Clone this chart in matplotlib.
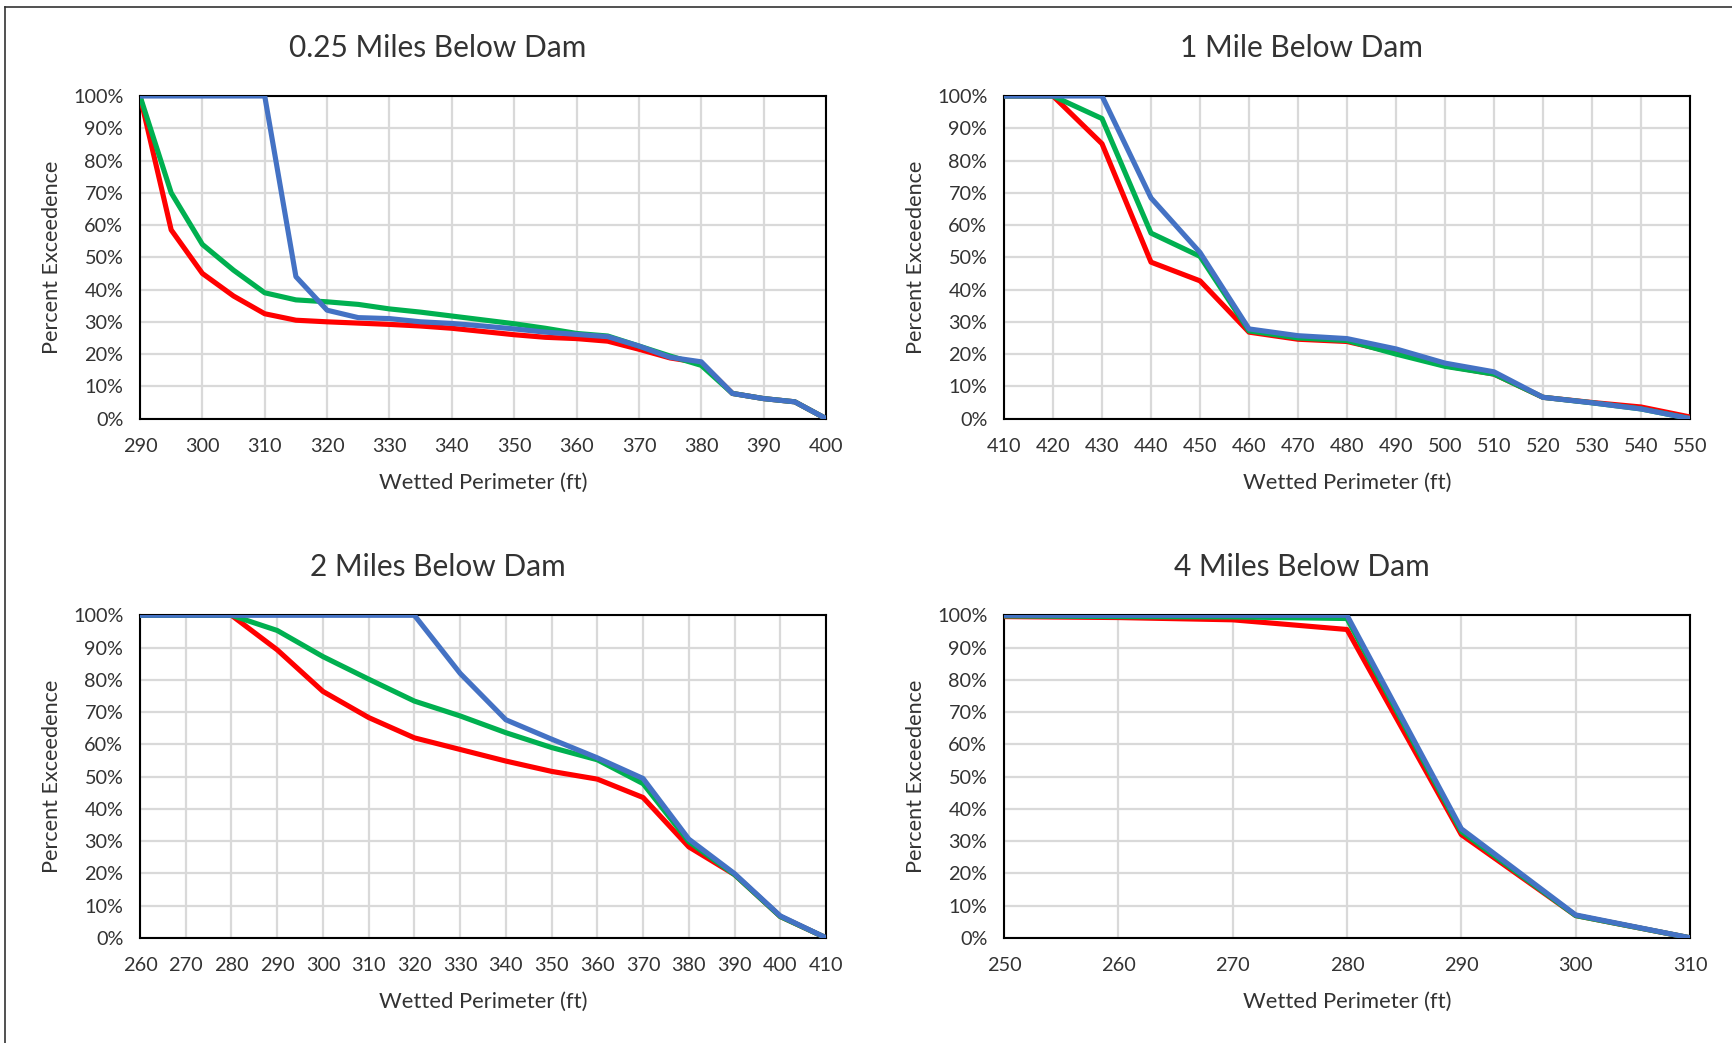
import numpy as np
import matplotlib
matplotlib.use('Agg')
import matplotlib.pyplot as plt
from matplotlib.ticker import PercentFormatter
from matplotlib.lines import Line2D

plt.rcParams['font.family'] = ['Lato', 'DejaVu Sans']

# 0.25 miles below dam
x1 = [290, 295, 300, 305, 310, 315, 320, 325, 330, 335, 340, 345, 350, 355, 360, 365, 370, 375, 380, 385, 390, 395, 400]
red1 = [100, 58.5, 45, 38, 32.5, 30.5, 30, 29.6, 29.2, 28.7, 28, 27, 26, 25.2, 24.8, 24, 21.5, 18.8, 17.3, 7.8, 6.2, 5.2, 0]
green1 = [100, 70, 54, 46, 39, 36.8, 36.2, 35.4, 34, 33, 31.8, 30.6, 29.4, 28, 26.4, 25.6, 22.5, 19.4, 16.5, 7.8, 6.2, 5.2, 0]
blue1 = [100, 100, 100, 100, 100, 44, 33.6, 31.3, 31, 30, 29.5, 28.7, 27.8, 26.8, 26.1, 25.4, 22.5, 19, 17.6, 7.8, 6.2, 5.2, 0]

# 1 mile below dam
x2 = [410, 420, 430, 440, 450, 460, 470, 480, 490, 500, 510, 520, 530, 540, 550]
red2 = [100, 100, 85.2, 48.5, 42.7, 26.8, 24.6, 23.9, 20.4, 16.4, 13.8, 6.6, 5, 3.6, 0.5]
green2 = [100, 100, 93, 57.5, 50.3, 27.2, 25, 24.2, 20, 16.2, 13.8, 6.6, 4.9, 3, 0]
blue2 = [100, 100, 100, 68.4, 51.5, 27.8, 25.7, 24.8, 21.6, 17.2, 14.5, 6.6, 4.9, 3, 0]

# 2 miles below dam
x3 = [260, 270, 280, 290, 300, 310, 320, 330, 340, 350, 360, 370, 380, 390, 400, 410]
red3 = [100, 100, 100, 89.3, 76.4, 68.3, 62, 58.4, 54.8, 51.6, 49.2, 43.5, 28.2, 19.6, 6.6, 0]
green3 = [100, 100, 100, 95.3, 87.2, 80.2, 73.4, 68.8, 63.6, 59, 55.2, 47.8, 29.8, 19.6, 6.6, 0]
blue3 = [100, 100, 100, 100, 100, 100, 100, 82, 67.6, 61.6, 55.8, 49.4, 30.6, 19.9, 6.8, 0]

# 4 miles below dam
x4 = [250, 260, 270, 280, 290, 300, 310]
red4 = [99.6, 99.3, 98.6, 95.6, 32, 6.9, 0]
green4 = [99.8, 99.6, 99.5, 99, 33, 6.9, 0]
blue4 = [100, 100, 100, 100, 33.8, 7.1, 0]

titles = ['0.25 Miles Below Dam', '1 Mile Below Dam', '2 Miles Below Dam', '4 Miles Below Dam']
xs = [x1, x2, x3, x4]
reds = [red1, red2, red3, red4]
greens = [green1, green2, green3, green4]
blues = [blue1, blue2, blue3, blue4]
xlims = [(290, 400), (410, 550), (260, 410), (250, 310)]

W, H = 1732, 1043
fig = plt.figure(figsize=(W / 100, H / 100), dpi=100)

# axes boxes in pixels: left, top, right, bottom
boxes = [(140, 96, 826, 418.6), (1004, 96, 1690, 418.6),
         (140, 615.3, 826, 937.8), (1004, 615.3, 1690, 937.8)]
txt = '#333333'

for i in range(4):
    l, t, r, b = boxes[i]
    ax = fig.add_axes([l / W, 1 - b / H, (r - l) / W, (b - t) / H])
    ax.plot(xs[i], reds[i], color='#FF0000', lw=3.7, solid_joinstyle='round', zorder=3)
    ax.plot(xs[i], greens[i], color='#00B050', lw=3.7, solid_joinstyle='round', zorder=4)
    ax.plot(xs[i], blues[i], color='#4472C4', lw=3.7, solid_joinstyle='round', zorder=5)
    ax.set_xlim(*xlims[i])
    ax.set_ylim(0, 100)
    ax.set_xticks(np.arange(xlims[i][0], xlims[i][1] + 1, 10))
    ax.set_yticks(np.arange(0, 101, 10))
    ax.yaxis.set_major_formatter(PercentFormatter(decimals=0))
    ax.grid(True, color='#D9D9D9', lw=1.6)
    ax.set_axisbelow(True)
    for s in ax.spines.values():
        s.set_color('black')
        s.set_linewidth(1.5)
    ax.tick_params(length=0, labelsize=14.3, colors=txt)
    ax.tick_params(axis='x', pad=14)
    ax.tick_params(axis='y', pad=12)
    # titles and axis labels
    fig.text((l - 45) / W + (r - l) / 2 / W, 1 - (t - 48) / H, titles[i],
             ha='center', va='center', fontsize=21.5, color=txt)
    fig.text((l + r) / 2 / W, 1 - (b + 64) / H, 'Wetted Perimeter (ft)',
             ha='center', va='center', fontsize=15.8, color=txt)
    fig.text((l - 88) / W, 1 - (t + b) / 2 / H, 'Percent Exceedence', rotation=90,
             ha='center', va='center', fontsize=15.6, color=txt)

# thin border at top and left of the image
fig.add_artist(Line2D([5 / W, 5 / W], [0, 1 - 7 / H], color='#333333', lw=1.2))
fig.add_artist(Line2D([5 / W, 1], [1 - 7 / H, 1 - 7 / H], color='#333333', lw=1.2))

fig.savefig('out.png', dpi=100)
